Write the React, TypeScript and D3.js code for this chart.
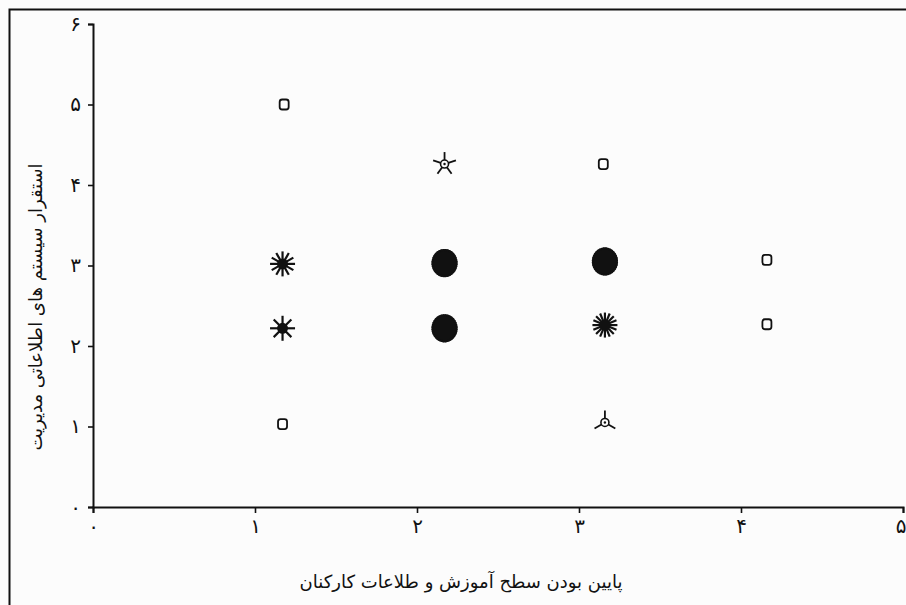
import React, { useEffect, useRef } from "react";
import * as d3 from "d3";

const xTicks = [0, 1, 2, 3, 4, 5];
const yTicks = [0, 1, 2, 3, 4, 5, 6];
const persianDigits = ["۰", "۱", "۲", "۳", "۴", "۵", "۶"];

const pointX = [1.18, 2.17, 3.15, 1.17, 2.17, 3.16, 4.16, 1.17, 2.17, 3.16, 4.16, 1.17, 3.16];
const pointY = [5.0, 4.26, 4.26, 3.02, 3.03, 3.05, 3.07, 2.22, 2.22, 2.26, 2.27, 1.03, 1.05];
const pointCount = [1, 5, 1, 12, 36, 36, 1, 8, 36, 16, 1, 1, 3];

const xTitle = "پایین بودن سطح آموزش و طلاعات کارکنان";
const yTitle = "استقرار سیستم های اطلاعاتی مدیریت";

const W = 906;
const H = 605;

export default function App() {
  const ref = useRef<SVGSVGElement>(null);

  useEffect(() => {
    const svg = d3.select(ref.current);
    svg.selectAll("*").remove();

    const x = d3.scaleLinear().domain([0, 5]).range([93, 903]);
    const y = d3.scaleLinear().domain([0, 6]).range([507, 24]);

    svg.append("rect").attr("x", 0).attr("y", 0).attr("width", W).attr("height", H).attr("fill", "#fcfcfc");
    svg.append("rect")
      .attr("x", 9.5).attr("y", 9.5).attr("width", W + 20).attr("height", H + 20)
      .attr("fill", "none").attr("stroke", "#111").attr("stroke-width", 2);

    const font = "'DejaVu Sans', 'Noto Sans', serif";

    const gx = svg.append("g").attr("transform", `translate(0,${y(0)})`);
    gx.call(
      d3.axisBottom(x).tickValues(xTicks).tickSize(6).tickPadding(6)
        .tickFormat((d: any) => persianDigits[d as number])
    );
    const gy = svg.append("g").attr("transform", `translate(${x(0)},0)`);
    gy.call(
      d3.axisLeft(y).tickValues(yTicks).tickSize(5).tickPadding(7)
        .tickFormat((d: any) => persianDigits[d as number])
    );
    [gx, gy].forEach((g) => {
      g.select(".domain").attr("stroke", "#111").attr("stroke-width", 2);
      g.selectAll(".tick line").attr("stroke", "#111").attr("stroke-width", 1.6);
      g.selectAll(".tick text").attr("fill", "#111").attr("font-size", 20).attr("font-family", font);
    });
    gx.selectAll(".tick text").filter((d: any) => d === 5).attr("text-anchor", "end").attr("dx", 3);

    const gp = svg.append("g");
    pointX.forEach((px, i) => {
      const cx = x(px);
      const cy = y(pointY[i]);
      const n = pointCount[i];
      const g = gp.append("g").attr("transform", `translate(${cx},${cy})`);
      if (n === 1) {
        g.append("rect")
          .attr("x", -4.5).attr("y", -5).attr("width", 9).attr("height", 10)
          .attr("rx", 2.5).attr("fill", "none").attr("stroke", "#111").attr("stroke-width", 1.8);
        return;
      }
      const dense = n > 20;
      const len = dense ? 13 : n <= 5 ? 12 : 12.5;
      const sw = dense ? 4 : n <= 5 ? 1.8 : 2.2;
      for (let k = 0; k < n; k++) {
        const a = -Math.PI / 2 + (2 * Math.PI * k) / n;
        const ry = dense ? len * 1.08 : len;
        g.append("line")
          .attr("x1", 0).attr("y1", 0)
          .attr("x2", Math.cos(a) * len).attr("y2", Math.sin(a) * ry)
          .attr("stroke", "#111").attr("stroke-width", sw).attr("stroke-linecap", "butt");
      }
      if (dense) {
        g.append("ellipse").attr("rx", 11).attr("ry", 12).attr("fill", "#111");
      } else if (n <= 5) {
        g.append("circle").attr("r", 4).attr("fill", "#fcfcfc").attr("stroke", "#111").attr("stroke-width", 1.6);
        g.append("circle").attr("r", 1.2).attr("fill", "#111");
      } else {
        g.append("circle").attr("r", 5.5).attr("fill", "#111");
      }
    });

    svg.append("text")
      .attr("x", 461).attr("y", 588)
      .attr("text-anchor", "middle")
      .attr("font-size", 18).attr("font-family", font).attr("fill", "#111")
      .attr("direction", "rtl")
      .text(xTitle);

    svg.append("text")
      .attr("transform", `translate(42,307) rotate(-90)`)
      .attr("text-anchor", "middle")
      .attr("font-size", 18).attr("font-family", font).attr("fill", "#111")
      .attr("direction", "rtl")
      .text(yTitle);
  }, []);

  return (
    <svg
      ref={ref}
      width={W}
      height={H}
      style={{ position: "absolute", left: 0, top: 0, display: "block" }}
    />
  );
}
